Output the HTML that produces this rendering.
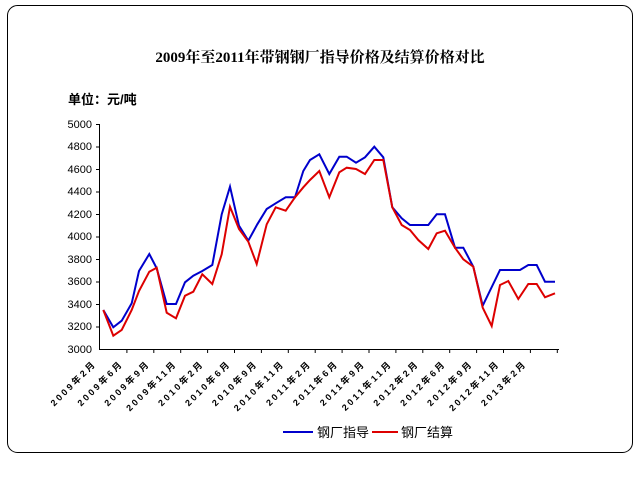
<!DOCTYPE html>
<html><head><meta charset="utf-8"><style>
body{margin:0;background:#fff;width:640px;height:480px;overflow:hidden}
svg{display:block}
</style></head><body>
<svg width="640" height="480" xmlns="http://www.w3.org/2000/svg" font-family="Liberation Sans, Noto Sans CJK SC, sans-serif">
<rect x="7.5" y="5.5" width="625" height="447" rx="10" fill="#fff" stroke="#000" stroke-width="1"/>
<text x="320" y="62" text-anchor="middle" font-size="15" font-weight="bold" font-family="Liberation Serif, Noto Serif CJK SC, serif">2009年至2011年带钢钢厂指导价格及结算价格对比</text>
<text x="68" y="104" font-size="13" font-weight="bold" font-family="Liberation Sans, Noto Sans CJK SC, sans-serif">单位：元/吨</text>
<g font-size="11" text-anchor="end" fill="#000">
<text x="92" y="128">5000</text><text x="92" y="150">4800</text><text x="92" y="173">4600</text><text x="92" y="195">4400</text><text x="92" y="218">4200</text><text x="92" y="240">4000</text><text x="92" y="263">3800</text><text x="92" y="285">3600</text><text x="92" y="308">3400</text><text x="92" y="330">3200</text><text x="92" y="353">3000</text>
</g>
<g stroke="#000" stroke-width="1">
<line x1="99.5" y1="124" x2="99.5" y2="349"/>
<line x1="99" y1="349.5" x2="559" y2="349.5"/>
<line x1="96" y1="124.5" x2="99" y2="124.5"/><line x1="96" y1="147" x2="99" y2="147"/><line x1="96" y1="169.5" x2="99" y2="169.5"/><line x1="96" y1="192" x2="99" y2="192"/><line x1="96" y1="214.5" x2="99" y2="214.5"/><line x1="96" y1="237" x2="99" y2="237"/><line x1="96" y1="259.5" x2="99" y2="259.5"/><line x1="96" y1="282" x2="99" y2="282"/><line x1="96" y1="304.5" x2="99" y2="304.5"/><line x1="96" y1="327" x2="99" y2="327"/>
</g>
<g id="ticks" stroke="#000"></g>
<polyline fill="none" stroke="#0000cc" stroke-width="2" points="103.3,310 113.3,327.3 121.7,320.7 131.7,303.3 139,271 149.3,254 156.7,268.3 166.7,304 176,304 185,282.3 193.3,275.7 202.3,271 212.3,265 221.7,214.3 230,186.7 239,225.7 248.3,240.7 257.3,224.3 266.7,209 275.7,203.3 285.7,197.3 295,197.3 303.3,171 310,160 319.3,154.3 329.3,174 339.3,156.7 346.7,156.7 356,162.7 365,157.3 374.3,146.7 383.3,157.3 392.3,207.3 401.7,218.3 410,225 428.3,225 436.7,214.3 445,214.3 455,247.7 463.3,247.7 473.3,266.7 482.7,305.7 500,270 520,270 528.3,265 536.7,265 545,281.7 555,281.7"/>
<polyline fill="none" stroke="#dd0000" stroke-width="2" points="103.3,310 113.3,335.7 121.7,330 131.7,310 139,291 149.3,271.7 156.7,267.7 166.7,312.7 176,318.3 185,295.7 193.3,291.7 202.3,274.3 212.3,284 221.7,254.3 230,206.7 239,229 248.3,241.7 256.7,264 266.7,224.3 275.7,207.3 285.7,210.7 295,197.3 303.3,187.3 310,180 319.3,171 329.3,197.3 339.3,172.3 346.7,167.7 356,169 365,174 374.3,160 383.3,160 392.3,207.3 401.7,225 410,230 418.3,240 428.3,249 436.7,233.3 445,230.7 455,247.7 463.3,259.3 473.3,266.7 482.7,307.7 491.7,326 500,285 508.3,281 518.3,299 528.3,284 536.7,284 545,297.3 555,293.3"/>
<g id="xl" font-size="9" font-weight="bold" text-anchor="end" letter-spacing="2.5"></g>
<line x1="283" y1="432" x2="313" y2="432" stroke="#0000cc" stroke-width="2"/>
<text x="317" y="437" font-size="13">钢厂指导</text>
<line x1="372" y1="432" x2="398" y2="432" stroke="#dd0000" stroke-width="2"/>
<text x="401" y="437" font-size="13">钢厂结算</text>
<script>
var labs=["2009年2月","2009年6月","2009年9月","2009年11月","2010年2月","2010年6月","2010年9月","2010年11月","2011年2月","2011年6月","2011年9月","2011年11月","2012年2月","2012年6月","2012年9月","2012年11月","2013年2月"];
var t=document.getElementById('ticks'),g=document.getElementById('xl'),ns="http://www.w3.org/2000/svg";
for(var i=0;i<17;i++){var x=100+26.9*(i+1);var l=document.createElementNS(ns,'line');l.setAttribute('x1',x);l.setAttribute('x2',x);l.setAttribute('y1',349);l.setAttribute('y2',353);t.appendChild(l);
var tx=document.createElementNS(ns,'text');var ax=100+26.9*i-3;tx.setAttribute('x',ax);tx.setAttribute('y',364);tx.setAttribute('transform','rotate(-45 '+ax+' 364)');tx.textContent=labs[i];g.appendChild(tx);}
</script>
</svg>
</body></html>
